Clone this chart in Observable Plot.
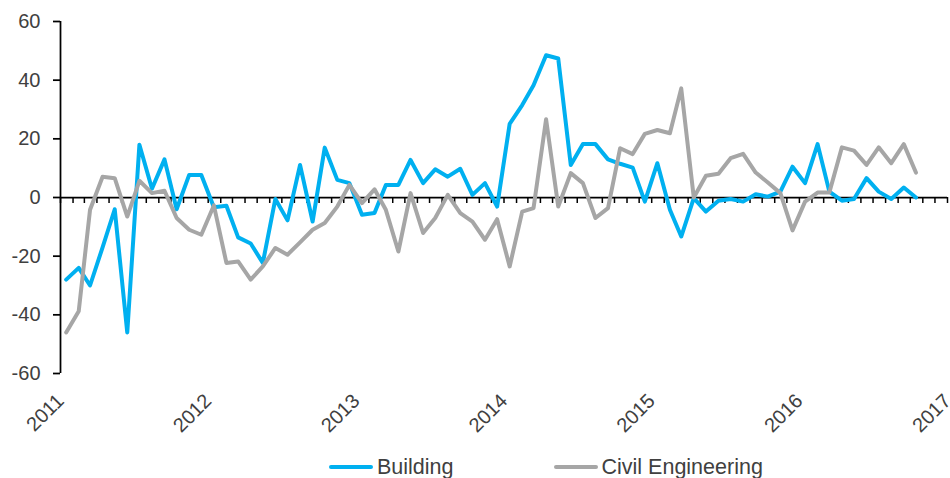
<!DOCTYPE html>
<html><head><meta charset="utf-8">
<script src="https://cdn.jsdelivr.net/npm/d3@7"></script>
<script src="https://cdn.jsdelivr.net/npm/@observablehq/plot@0.6"></script>
<style>
body{margin:0;background:#fff;font-family:"Liberation Sans",Arial,sans-serif;}
#wrap{position:relative;width:950px;height:478px;overflow:hidden;}
#legend{position:absolute;left:329px;top:455px;display:flex;align-items:center;font-size:21.5px;color:#404040;line-height:24px;white-space:nowrap;}
.item{display:flex;align-items:center;}
.sw{width:44px;height:4px;border-radius:2px;margin-right:4px;}
</style></head><body><div id="wrap"><div id="chart"></div><div id="legend"></div></div>
<script>
const yearTicks = [2011, 2012, 2013, 2014, 2015, 2016, 2017];
const yTicks = [-60, -40, -20, 0, 20, 40, 60];
const seriesNames = ["Building", "Civil Engineering"];
const colors = ["#00B0F0", "#A6A6A6"];
const startYear = 2011;

const building = [-28, -24, -30, -17, -4, -46, 18, 3, 13, -4,
  7.7, 7.7, -3.3, -2.8, -13.6, -15.7, -22.3, -0.5, -7.8, 11.1,
  -8.2, 17, 6, 4.9, -5.9, -5.3, 4.3, 4.3, 12.8, 4.9,
  9.6, 7.1, 9.8, 0.9, 4.9, -3.1, 25.1, 31.5, 38.3, 48.5,
  47.4, 11.1, 18.2, 18.2, 13, 11.5, 10.2, -1.4, 11.7, -4.2,
  -13.3, -0.2, -4.8, -1.1, -0.5, -1.4, 1.1, 0.3, 2, 10.5,
  4.9, 18.2, 2, -1.1, -0.5, 6.6, 2, -0.5, 3.4, 0];

const civil = [-46, -38.8, -4.2, 7.1, 6.6, -6.5, 5.7, 1.5, 2.3, -7.0,
  -11, -12.7, -2.7, -22.3, -21.8, -28, -23.5, -17.2, -19.5, -15.3,
  -11, -8.7, -3.1, 4.3, -1.9, 2.8, -4.2, -18.4, 1.5, -12.1,
  -7.0, 0.9, -5.3, -8.2, -14.4, -7.4, -23.5, -4.8, -3.6, 26.7,
  -3.1, 8.3, 4.9, -7.0, -3.6, 16.8, 14.8, 21.7, 23.0, 21.9,
  37.2, 0, 7.4, 8.1, 13.4, 14.9, 8.5, 5.1, 1.5, -11.2,
  -1.4, 1.7, 1.7, 17.1, 16.0, 11.1, 17.1, 11.7, 18.2, 8.5];

const dateOf = i => new Date(Date.UTC(startYear, i, 15));
const rows = [];
[building, civil].forEach((arr, s) => arr.forEach((v, i) => rows.push({date: dateOf(i), value: v, series: seriesNames[s]})));

const yearDates = yearTicks.map(y => new Date(Date.UTC(y, 0, 1)));
const xDomain = [yearDates[0], yearDates[yearDates.length - 1]];
const months = d3.utcMonth.range(xDomain[0], new Date(+xDomain[1] + 1));

const chart = Plot.plot({
  width: 950, height: 440,
  marginTop: 21, marginBottom: 67, marginLeft: 60, marginRight: 3,
  style: {fontFamily: '"Liberation Sans", Arial, sans-serif', fontSize: "20px", color: "#404040", background: "#fff"},
  x: {type: "utc", domain: xDomain},
  y: {domain: [yTicks[0], yTicks[yTicks.length - 1]]},
  color: {domain: seriesNames, range: colors},
  marks: [
    Plot.axisY({ticks: yTicks, tickSize: 7, tickPadding: 13, tickFormat: d => String(d), stroke: "#000", strokeWidth: 1.75, fill: "#404040", fontSize: 20, label: null}),
    Plot.axisX({ticks: yearDates, tickSize: 0, tickPadding: 24, tickRotate: -45, tickFormat: d3.utcFormat("%Y"), fill: "#404040", fontSize: 20, label: null}),
    Plot.ruleX([xDomain[0]], {stroke: "#000", strokeWidth: 1.75}),
    Plot.ruleY([0], {stroke: "#000", strokeWidth: 1.75}),
    Plot.ruleX(months, {x: d => d, y1: 0, y2: 0, insetBottom: -6, stroke: "#000", strokeWidth: 1.5}),
    Plot.line(rows, {x: "date", y: "value", stroke: "series", z: "series", strokeWidth: 4, strokeLinejoin: "round", strokeLinecap: "round"})
  ]
});
document.getElementById("chart").appendChild(chart);

const legend = document.getElementById("legend");
seriesNames.forEach((name, i) => {
  const item = document.createElement("div");
  item.className = "item";
  if (i > 0) item.style.marginLeft = "100px";
  const sw = document.createElement("span");
  sw.className = "sw";
  sw.style.background = colors[i];
  const t = document.createElement("span");
  t.textContent = name;
  item.appendChild(sw); item.appendChild(t);
  legend.appendChild(item);
});
</script></body></html>
